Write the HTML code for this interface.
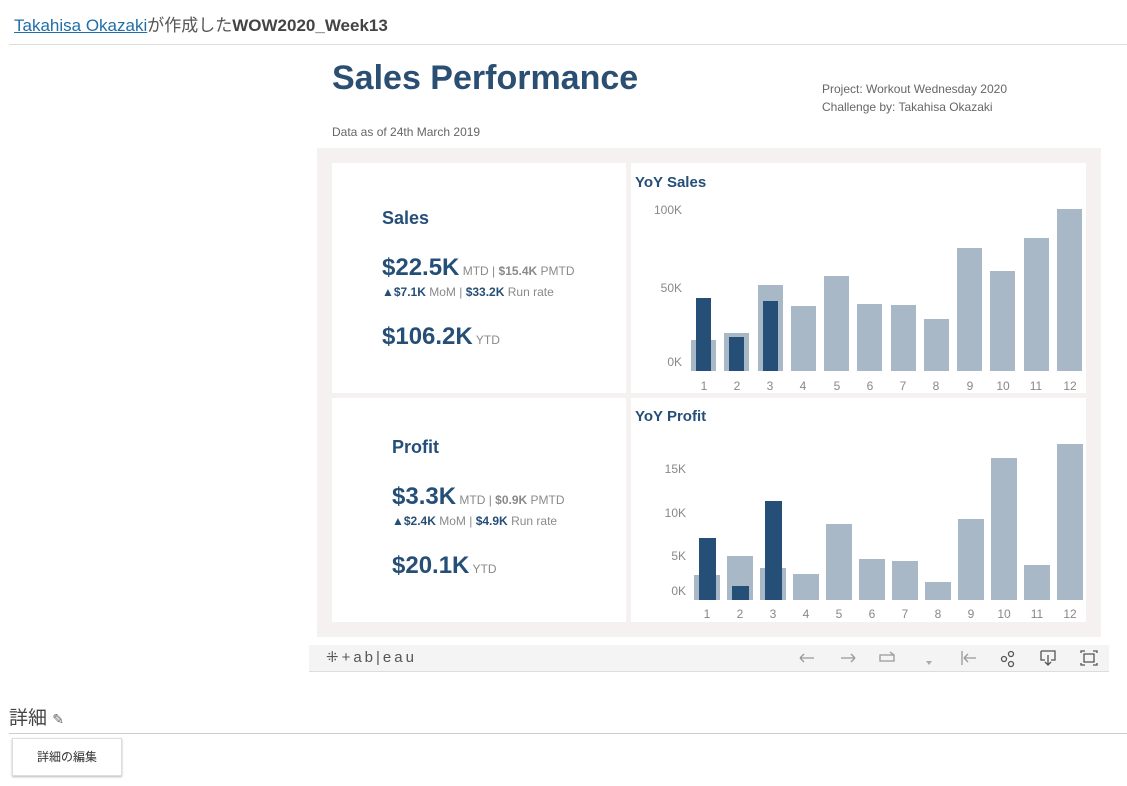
<!DOCTYPE html>
<html><head><meta charset="utf-8"><style>
body{margin:0;width:1127px;height:786px;position:relative;background:#fff;font-family:"Liberation Sans","Noto Sans CJK JP",sans-serif;overflow:hidden}
.a{position:absolute;white-space:nowrap}
.b{color:#264f77;font-weight:bold}
.g{color:#8a8a8a}
</style></head><body>
<div class="a" style="left:14px;top:11px;font-size:17px;color:#555"><span style="color:#1f6fa8;text-decoration:underline">Takahisa Okazaki</span>が作成した<b style="color:#444">WOW2020_Week13</b></div>
<div class="a" style="left:9px;top:44px;width:1118px;height:1px;background:#ddd"></div>
<div class="a b" style="left:332px;top:59px;font-size:34px;color:#2b4f73">Sales Performance</div>
<div class="a" style="left:822px;top:80px;font-size:12px;color:#666;line-height:18px">Project: Workout Wednesday 2020<br>Challenge by: Takahisa Okazaki</div>
<div class="a" style="left:332px;top:125px;font-size:12px;color:#666">Data as of 24th March 2019</div>
<div class="a" style="left:317px;top:148px;width:784px;height:489px;background:#f4f1f0"></div>
<div class="a" style="left:332px;top:163px;width:294px;height:230px;background:#fff"></div>
<div class="a" style="left:631px;top:163px;width:455px;height:230px;background:#fff"></div>
<div class="a" style="left:332px;top:398px;width:294px;height:224px;background:#fff"></div>
<div class="a" style="left:631px;top:398px;width:455px;height:224px;background:#fff"></div>
<div class="a" style="left:309px;top:645px;width:800px;height:26px;background:#f4f4f4;border-bottom:1px solid #ddd"></div>

<div class="a b" style="left:382px;top:208px;font-size:18px">Sales</div>
<div class="a" style="left:382px;top:254px;font-size:12px"><span class="b" style="font-size:24px">$22.5K</span> <span class="g">MTD | <b>$15.4K</b> PMTD</span></div>
<div class="a" style="left:382px;top:285px;font-size:12px;color:#8a8a8a"><span class="b">▲$7.1K</span> MoM | <span class="b">$33.2K</span> Run rate</div>
<div class="a" style="left:382px;top:323px;font-size:12px"><span class="b" style="font-size:24px">$106.2K</span> <span class="g">YTD</span></div>

<div class="a b" style="left:392px;top:437px;font-size:18px">Profit</div>
<div class="a" style="left:392px;top:483px;font-size:12px"><span class="b" style="font-size:24px">$3.3K</span> <span class="g">MTD | <b>$0.9K</b> PMTD</span></div>
<div class="a" style="left:392px;top:514px;font-size:12px;color:#8a8a8a"><span class="b">▲$2.4K</span> MoM | <span class="b">$4.9K</span> Run rate</div>
<div class="a" style="left:392px;top:552px;font-size:12px"><span class="b" style="font-size:24px">$20.1K</span> <span class="g">YTD</span></div>

<div class="a b" style="left:635px;top:174px;font-size:15px">YoY Sales</div>
<div class="a b" style="left:635px;top:408px;font-size:15px">YoY Profit</div>

<svg class="a" style="left:0;top:0" width="1127" height="786" font-family="Liberation Sans, sans-serif" font-size="12" fill="#888">
<g fill="#a9b8c7">
<rect x="691" y="340" width="25" height="31"/><rect x="724" y="333" width="25" height="38"/><rect x="758" y="285" width="25" height="86"/><rect x="791" y="306" width="25" height="65"/><rect x="824" y="276" width="25" height="95"/><rect x="857" y="304" width="25" height="67"/><rect x="891" y="305" width="25" height="66"/><rect x="924" y="319" width="25" height="52"/><rect x="957" y="248" width="25" height="123"/><rect x="990" y="271" width="25" height="100"/><rect x="1024" y="238" width="25" height="133"/><rect x="1057" y="209" width="25" height="162"/>
<rect x="694" y="575" width="26" height="25"/><rect x="727" y="556" width="26" height="44"/><rect x="760" y="568" width="26" height="32"/><rect x="793" y="574" width="26" height="26"/><rect x="826" y="524" width="26" height="76"/><rect x="859" y="559" width="26" height="41"/><rect x="892" y="561" width="26" height="39"/><rect x="925" y="582" width="26" height="18"/><rect x="958" y="519" width="26" height="81"/><rect x="991" y="458" width="26" height="142"/><rect x="1024" y="565" width="26" height="35"/><rect x="1057" y="444" width="26" height="156"/>
</g>
<g fill="#264f77">
<rect x="696" y="298" width="15" height="73"/><rect x="729" y="337" width="15" height="34"/><rect x="763" y="301" width="15" height="70"/>
<rect x="699" y="538" width="17" height="62"/><rect x="732" y="586" width="17" height="14"/><rect x="765" y="501" width="17" height="99"/>
</g>
<g text-anchor="end">
<text x="682" y="214">100K</text><text x="682" y="292">50K</text><text x="682" y="366">0K</text>
<text x="686" y="473">15K</text><text x="686" y="517">10K</text><text x="686" y="560">5K</text><text x="686" y="595">0K</text>
</g>
<g text-anchor="middle">
<text x="704" y="390">1</text><text x="737" y="390">2</text><text x="770" y="390">3</text><text x="803" y="390">4</text><text x="837" y="390">5</text><text x="870" y="390">6</text><text x="903" y="390">7</text><text x="936" y="390">8</text><text x="970" y="390">9</text><text x="1003" y="390">10</text><text x="1036" y="390">11</text><text x="1070" y="390">12</text>
<text x="707" y="618">1</text><text x="740" y="618">2</text><text x="773" y="618">3</text><text x="806" y="618">4</text><text x="839" y="618">5</text><text x="872" y="618">6</text><text x="905" y="618">7</text><text x="938" y="618">8</text><text x="971" y="618">9</text><text x="1004" y="618">10</text><text x="1037" y="618">11</text><text x="1070" y="618">12</text>
</g>
<g stroke="#999" fill="none" stroke-width="1.3">
<path d="M800 658h14M800 658l4-4M800 658l4 4"/>
<path d="M841 658h14M855 658l-4-4M855 658l-4 4"/>
<path d="M880 655h14v6h-14zM890 652l4 3"/>
<path d="M962 651v14M964 658h12M964 658l4-4M964 658l4 4"/>
<circle cx="1004" cy="659" r="2.5" stroke="#555"/><circle cx="1011" cy="654" r="2.5" stroke="#555"/><circle cx="1011" cy="664" r="2.5" stroke="#555"/>
<path d="M1041 651h14v9h-4M1045 660h-4v-9M1048 655v10M1045 662l3 3 3-3" stroke="#555"/>
<path d="M1081 653v-2h4M1093 651h4v2M1097 663v2h-4M1085 665h-4v-2M1084 654h10v8h-10z" stroke="#555"/>
</g>
<path d="M926 661h6l-3 4z" fill="#aaa"/>
</svg>
<div class="a" style="left:326px;top:648px;font-size:15px;color:#555;letter-spacing:3px">⁜+ab|eau</div>
<div class="a" style="left:9px;top:703px;font-size:19px;color:#444">詳細 <span style="font-size:14px;color:#666">✎</span></div>
<div class="a" style="left:9px;top:733px;width:1118px;height:1px;background:#ccc"></div>
<div class="a" style="left:12px;top:738px;width:108px;height:36px;border:1px solid #ddd;box-shadow:0 1px 2px #bbb;font-size:12px;color:#333;text-align:center;line-height:36px;background:#fff">詳細の編集</div>
</body></html>
